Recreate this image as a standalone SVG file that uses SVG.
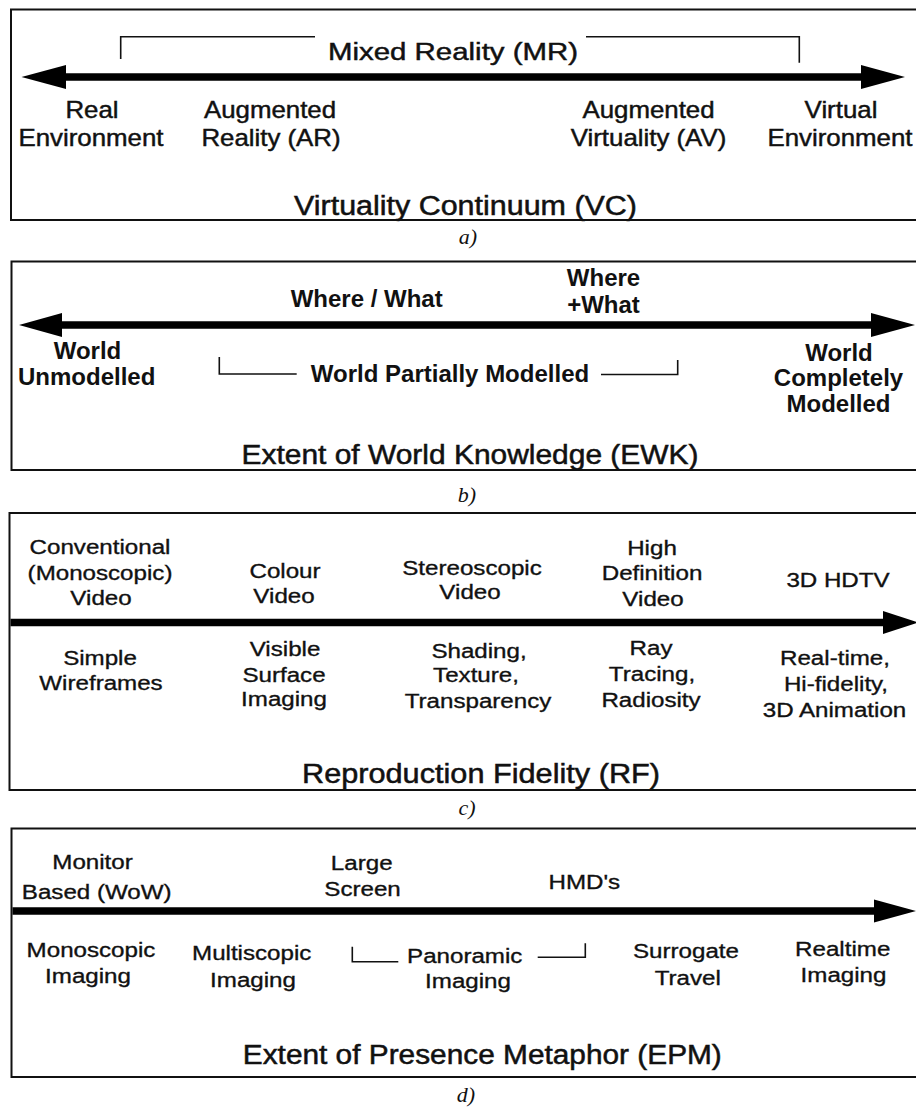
<svg xmlns="http://www.w3.org/2000/svg" width="916" height="1108" viewBox="0 0 916 1108">
<style>
text { font-family: "Liberation Sans", Arial, sans-serif; fill: #111; text-anchor: middle; }
.la { font-size: 23.5px; stroke: #111; stroke-width: 0.45px; }
.lb { font-size: 24px; font-weight: bold; }
.lc { font-size: 21px; stroke: #111; stroke-width: 0.35px; }
.tt { font-size: 27px; stroke: #111; stroke-width: 0.5px; }
.cap { font-family: "Liberation Serif", "Times New Roman", serif; font-style: italic; font-size: 22px; }
.frame { fill: none; stroke: #111; stroke-width: 2; }
.shaft { stroke: #000; stroke-width: 7.5; fill: none; }
.head { fill: #000; stroke: none; }
.brk { fill: none; stroke: #111; stroke-width: 1.6; }
</style>
<rect width="916" height="1108" fill="#fff"/>

<!-- panel frames -->
<g id="frames">
  <rect id="frame-a" class="frame" x="11" y="9.5" width="940" height="210.5"/>
  <rect id="frame-b" class="frame" x="11.5" y="261.5" width="940" height="208.5"/>
  <rect id="frame-c" class="frame" x="9.5" y="513" width="940" height="277"/>
  <rect id="frame-d" class="frame" x="11.5" y="828.5" width="940" height="248.5"/>
</g>

<!-- connectors: arrows and brackets -->
<g id="connectors">
  <!-- a -->
  <line class="shaft" x1="60" y1="77" x2="867" y2="77"/>
  <polygon class="head" points="21.5,77 66,65 66,89"/>
  <polygon class="head" points="905,77 861,65 861,89"/>
  <polyline class="brk" points="120.7,59 120.7,36.7 315,36.7"/>
  <polyline class="brk" points="586,36.7 799.3,36.7 799.3,62.7"/>
  <!-- b -->
  <line class="shaft" x1="55" y1="325" x2="876" y2="325"/>
  <polygon class="head" points="19,325 62,313 62,337"/>
  <polygon class="head" points="915,325 871,313 871,337"/>
  <polyline class="brk" points="219.3,357 219.3,374 296.7,374"/>
  <polyline class="brk" points="601,374.5 677.7,374.5 677.7,360"/>
  <!-- c -->
  <line class="shaft" x1="10.5" y1="622.5" x2="888" y2="622.5"/>
  <polygon class="head" points="918,622.5 883,611 883,634"/>
  <!-- d -->
  <line class="shaft" x1="12.5" y1="911" x2="880" y2="911"/>
  <polygon class="head" points="916,911 874,899.5 874,922.5"/>
  <polyline class="brk" points="352.3,946.7 352.3,961.7 398.3,961.7"/>
  <polyline class="brk" points="537.7,957.3 585.3,957.3 585.3,943.3"/>
</g>

<!-- a) Virtuality Continuum -->
<g id="node-mr"><text class="la" x="453" y="59.5" textLength="250" lengthAdjust="spacingAndGlyphs">Mixed Reality (MR)</text></g>
<g id="node-re">
  <text class="la" transform="translate(92,117.5) scale(1.1,1)">Real</text>
  <text class="la" transform="translate(91,146) scale(1.1,1)">Environment</text>
</g>
<g id="node-ar">
  <text class="la" transform="translate(270,117.5) scale(1.1,1)">Augmented</text>
  <text class="la" transform="translate(271,146) scale(1.1,1)">Reality (AR)</text>
</g>
<g id="node-av">
  <text class="la" transform="translate(648.5,117.5) scale(1.1,1)">Augmented</text>
  <text class="la" transform="translate(648.5,146) scale(1.1,1)">Virtuality (AV)</text>
</g>
<g id="node-ve">
  <text class="la" transform="translate(841,117.5) scale(1.1,1)">Virtual</text>
  <text class="la" transform="translate(840,146) scale(1.1,1)">Environment</text>
</g>
<g id="title-vc"><text class="tt" x="465.5" y="215" textLength="343" lengthAdjust="spacingAndGlyphs">Virtuality Continuum (VC)</text></g>
<g id="cap-a"><text class="cap" x="468" y="244">a)</text></g>

<!-- b) Extent of World Knowledge -->
<g id="node-wherewhat"><text class="lb" x="366.7" y="306.7">Where / What</text></g>
<g id="node-whereplus">
  <text class="lb" x="603.5" y="286">Where</text>
  <text class="lb" x="603.5" y="312.5">+What</text>
</g>
<g id="node-wu">
  <text class="lb" x="87.5" y="359">World</text>
  <text class="lb" x="86.7" y="385">Unmodelled</text>
</g>
<g id="node-wpm"><text class="lb" x="450" y="382">World Partially Modelled</text></g>
<g id="node-wcm">
  <text class="lb" x="839" y="360.5">World</text>
  <text class="lb" x="838.5" y="385.5">Completely</text>
  <text class="lb" x="838.5" y="411.5">Modelled</text>
</g>
<g id="title-ewk"><text class="tt" x="470" y="464" textLength="457" lengthAdjust="spacingAndGlyphs">Extent of World Knowledge (EWK)</text></g>
<g id="cap-b"><text class="cap" x="467" y="502">b)</text></g>

<!-- c) Reproduction Fidelity -->
<g id="node-conv">
  <text class="lc" transform="translate(100,554) scale(1.15,1)">Conventional</text>
  <text class="lc" transform="translate(100,580) scale(1.15,1)">(Monoscopic)</text>
  <text class="lc" transform="translate(101,605) scale(1.15,1)">Video</text>
</g>
<g id="node-colour">
  <text class="lc" transform="translate(285,578) scale(1.15,1)">Colour</text>
  <text class="lc" transform="translate(284,603) scale(1.15,1)">Video</text>
</g>
<g id="node-stereo">
  <text class="lc" transform="translate(472,574.5) scale(1.15,1)">Stereoscopic</text>
  <text class="lc" transform="translate(470,599) scale(1.15,1)">Video</text>
</g>
<g id="node-hd">
  <text class="lc" transform="translate(652,555) scale(1.15,1)">High</text>
  <text class="lc" transform="translate(652,580) scale(1.15,1)">Definition</text>
  <text class="lc" transform="translate(653,606) scale(1.15,1)">Video</text>
</g>
<g id="node-3dhdtv"><text class="lc" transform="translate(838,587) scale(1.15,1)">3D HDTV</text></g>
<g id="node-wire">
  <text class="lc" transform="translate(100,665) scale(1.15,1)">Simple</text>
  <text class="lc" transform="translate(101,690) scale(1.15,1)">Wireframes</text>
</g>
<g id="node-visible">
  <text class="lc" transform="translate(285,656) scale(1.15,1)">Visible</text>
  <text class="lc" transform="translate(284,681.5) scale(1.15,1)">Surface</text>
  <text class="lc" transform="translate(284,705.5) scale(1.15,1)">Imaging</text>
</g>
<g id="node-shading">
  <text class="lc" transform="translate(479,657.5) scale(1.15,1)">Shading,</text>
  <text class="lc" transform="translate(476,681.5) scale(1.15,1)">Texture,</text>
  <text class="lc" transform="translate(478,707.5) scale(1.15,1)">Transparency</text>
</g>
<g id="node-ray">
  <text class="lc" transform="translate(651,655) scale(1.15,1)">Ray</text>
  <text class="lc" transform="translate(652,680.5) scale(1.15,1)">Tracing,</text>
  <text class="lc" transform="translate(651,706.5) scale(1.15,1)">Radiosity</text>
</g>
<g id="node-realtime">
  <text class="lc" transform="translate(835,665) scale(1.15,1)">Real-time,</text>
  <text class="lc" transform="translate(836,691) scale(1.15,1)">Hi-fidelity,</text>
  <text class="lc" transform="translate(834.5,716.5) scale(1.15,1)">3D Animation</text>
</g>
<g id="title-rf"><text class="tt" x="481" y="783" textLength="358" lengthAdjust="spacingAndGlyphs">Reproduction Fidelity (RF)</text></g>
<g id="cap-c"><text class="cap" x="467" y="815">c)</text></g>

<!-- d) Extent of Presence Metaphor -->
<g id="node-monitor">
  <text class="lc" transform="translate(92.5,869.3) scale(1.15,1)">Monitor</text>
  <text class="lc" transform="translate(96.7,899.3) scale(1.15,1)">Based (WoW)</text>
</g>
<g id="node-large">
  <text class="lc" transform="translate(361.7,870) scale(1.15,1)">Large</text>
  <text class="lc" transform="translate(362.5,896) scale(1.15,1)">Screen</text>
</g>
<g id="node-hmd"><text class="lc" transform="translate(584.3,889.3) scale(1.15,1)">HMD's</text></g>
<g id="node-mono">
  <text class="lc" transform="translate(91,956.7) scale(1.15,1)">Monoscopic</text>
  <text class="lc" transform="translate(88,983.3) scale(1.15,1)">Imaging</text>
</g>
<g id="node-multi">
  <text class="lc" transform="translate(251.7,960) scale(1.15,1)">Multiscopic</text>
  <text class="lc" transform="translate(253,986.7) scale(1.15,1)">Imaging</text>
</g>
<g id="node-pano">
  <text class="lc" transform="translate(464.7,962.7) scale(1.15,1)">Panoramic</text>
  <text class="lc" transform="translate(468,988) scale(1.15,1)">Imaging</text>
</g>
<g id="node-surrogate">
  <text class="lc" transform="translate(686,958.3) scale(1.15,1)">Surrogate</text>
  <text class="lc" transform="translate(687.7,985) scale(1.15,1)">Travel</text>
</g>
<g id="node-rtimg">
  <text class="lc" transform="translate(842.7,956) scale(1.15,1)">Realtime</text>
  <text class="lc" transform="translate(843.5,981.7) scale(1.15,1)">Imaging</text>
</g>
<g id="title-epm"><text class="tt" x="482.3" y="1064" textLength="479" lengthAdjust="spacingAndGlyphs">Extent of Presence Metaphor (EPM)</text></g>
<g id="cap-d"><text class="cap" x="466" y="1102">d)</text></g>
</svg>
